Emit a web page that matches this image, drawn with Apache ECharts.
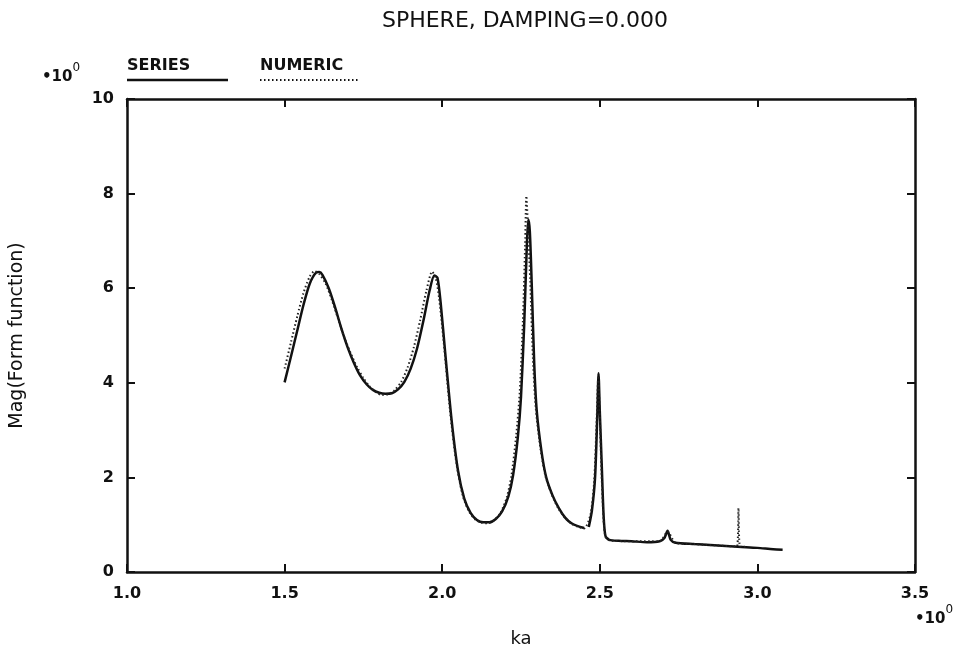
<!DOCTYPE html>
<html>
<head>
<meta charset="utf-8">
<script src="https://cdn.jsdelivr.net/npm/echarts@6/dist/echarts.min.js"></script>
<style>
  html, body { margin: 0; padding: 0; background: #fff; }
  #chart { width: 958px; height: 653px; }
</style>
</head>
<body>
<div id="chart"></div>
<script>
// ka values and magnitudes
var seriesKa = [1.50, 1.52, 1.54, 1.56, 1.58, 1.60, 1.61, 1.62, 1.64, 1.66, 1.68, 1.70, 1.72, 1.74, 1.76, 1.78, 1.80, 1.82, 1.84, 1.86, 1.88, 1.90, 1.92, 1.94, 1.96, 1.975, 1.985, 1.995, 2.01, 2.03, 2.05, 2.07, 2.09, 2.11, 2.13, 2.15, 2.17, 2.19, 2.21, 2.225, 2.24, 2.25, 2.26, 2.268, 2.273, 2.278, 2.284, 2.292, 2.30, 2.315, 2.33, 2.35, 2.37, 2.39, 2.41, 2.43, 2.45, 2.458, 2.465, 2.475, 2.485, 2.492, 2.496, 2.50, 2.506, 2.512, 2.518, 2.53, 2.56, 2.60, 2.65, 2.69, 2.705, 2.715, 2.725, 2.74, 2.80, 2.85, 2.90, 2.95, 3.00, 3.05, 3.08];
var seriesMag = [4.01, 4.55, 5.10, 5.65, 6.10, 6.33, 6.34, 6.28, 6.00, 5.60, 5.15, 4.75, 4.42, 4.15, 3.97, 3.85, 3.79, 3.77, 3.78, 3.86, 4.02, 4.30, 4.72, 5.30, 5.95, 6.27, 6.22, 5.70, 4.60, 3.20, 2.15, 1.55, 1.25, 1.10, 1.05, 1.05, 1.12, 1.28, 1.60, 2.05, 2.85, 3.70, 5.20, 6.80, 7.45, 7.20, 6.10, 4.40, 3.40, 2.55, 2.00, 1.62, 1.35, 1.15, 1.03, 0.97, 0.93, null, 0.95, 1.30, 2.00, 3.30, 4.20, 3.40, 2.30, 1.20, 0.76, 0.68, 0.66, 0.65, 0.63, 0.65, 0.72, 0.87, 0.68, 0.62, 0.59, 0.57, 0.55, 0.53, 0.51, 0.48, 0.47];

var numericKa = [1.50, 1.52, 1.54, 1.56, 1.58, 1.595, 1.61, 1.63, 1.65, 1.67, 1.69, 1.71, 1.73, 1.75, 1.77, 1.79, 1.81, 1.83, 1.85, 1.87, 1.89, 1.91, 1.93, 1.95, 1.968, 1.98, 1.99, 2.005, 2.025, 2.045, 2.065, 2.085, 2.105, 2.125, 2.145, 2.165, 2.185, 2.205, 2.22, 2.235, 2.246, 2.256, 2.263, 2.267, 2.272, 2.279, 2.288, 2.297, 2.312, 2.328, 2.348, 2.368, 2.39, 2.41, 2.43, 2.45, 2.47, 2.482, 2.49, 2.495, 2.50, 2.505, 2.512, 2.518, 2.53, 2.60, 2.69, 2.715, 2.74, 2.80, 2.90, 2.935, 2.94, 2.945, 2.97];
var numericMag = [4.30, 4.85, 5.40, 5.90, 6.25, 6.36, 6.30, 6.10, 5.75, 5.35, 4.95, 4.62, 4.33, 4.10, 3.92, 3.80, 3.74, 3.76, 3.85, 4.02, 4.32, 4.75, 5.32, 5.95, 6.35, 6.20, 5.80, 4.85, 3.40, 2.30, 1.62, 1.28, 1.11, 1.04, 1.03, 1.10, 1.25, 1.58, 2.05, 2.90, 3.80, 5.30, 6.90, 7.95, 7.30, 6.20, 4.50, 3.45, 2.60, 2.02, 1.63, 1.35, 1.14, 1.02, 0.96, 0.92, 1.20, 1.90, 3.20, 4.10, 3.30, 2.20, 1.10, 0.74, 0.67, 0.65, 0.65, 0.85, 0.62, 0.59, 0.55, 0.54, 1.35, 0.54, 0.53];

var xTicks = [1.0, 1.5, 2.0, 2.5, 3.0, 3.5];
var yTicks = [0, 2, 4, 6, 8, 10];

function pairs(xs, ys) {
    return xs.map(function (x, i) { return [x, ys[i]]; });
}

var font = 'DejaVu Sans';
var ink = '#111';

var chart = echarts.init(document.getElementById('chart'));

var axisCommon = {
    axisLine: { show: true, onZero: false, lineStyle: { color: ink, width: 2.5 } },
    axisTick: { show: true, inside: true, length: 8, lineStyle: { color: ink, width: 2 } },
    splitLine: { show: false }
};

var expRich = {
    b: { fontFamily: font, fontSize: 15, fontWeight: 'bold', verticalAlign: 'bottom', padding: [8, 0, 0, 0] },
    s: { fontFamily: font, fontSize: 12, verticalAlign: 'top' }
};

var option = {
    backgroundColor: '#fff',
    animation: false,
    title: {
        text: 'SPHERE, DAMPING=0.000',
        left: 520, top: 5, textAlign: 'center',
        textStyle: { fontFamily: font, fontSize: 22, fontWeight: 'normal', color: ink }
    },
    grid: { left: 127, right: 43, top: 99, bottom: 81 },
    xAxis: [
        Object.assign({
            type: 'value', min: xTicks[0], max: xTicks[xTicks.length - 1], interval: 0.5,
            position: 'bottom',
            name: 'ka', nameLocation: 'middle', nameGap: 58,
            nameTextStyle: { fontFamily: font, fontSize: 18, color: ink },
            axisLabel: {
                margin: 14, color: ink, fontFamily: font, fontSize: 16, fontWeight: 'bold',
                formatter: function (v) { return v.toFixed(1); }
            }
        }, axisCommon),
        Object.assign({
            type: 'value', min: xTicks[0], max: xTicks[xTicks.length - 1], interval: 0.5,
            position: 'top', axisLabel: { show: false }
        }, axisCommon)
    ],
    yAxis: [
        Object.assign({
            type: 'value', min: yTicks[0], max: yTicks[yTicks.length - 1], interval: 2,
            position: 'left',
            name: 'Mag(Form function)', nameLocation: 'middle', nameGap: 100,
            nameTextStyle: { fontFamily: font, fontSize: 19, color: ink },
            axisLabel: {
                margin: 13, color: ink, fontFamily: font, fontSize: 16, fontWeight: 'bold'
            }
        }, axisCommon),
        Object.assign({
            type: 'value', min: yTicks[0], max: yTicks[yTicks.length - 1], interval: 2,
            position: 'right', axisLabel: { show: false }
        }, axisCommon)
    ],
    graphic: [
        // legend: text with underline in the series style
        { type: 'text', left: 127, top: 58,
          style: { text: 'SERIES', fontFamily: font, fontSize: 16, fontWeight: 'bold', fill: ink } },
        { type: 'line', shape: { x1: 127, y1: 80, x2: 228, y2: 80 },
          style: { stroke: ink, lineWidth: 2.5 } },
        { type: 'text', left: 260, top: 58,
          style: { text: 'NUMERIC', fontFamily: font, fontSize: 16, fontWeight: 'bold', fill: ink } },
        { type: 'line', shape: { x1: 260, y1: 80, x2: 360, y2: 80 },
          style: { stroke: ink, lineWidth: 2, lineDash: [1.5, 2.5] } },
        // exponent markers
        { type: 'text', left: 42, top: 62, style: { text: '{b|•10}{s|0}', fill: ink, rich: expRich } },
        { type: 'text', left: 915, top: 604, style: { text: '{b|•10}{s|0}', fill: ink, rich: expRich } }
    ],
    series: [
        {
            name: 'SERIES', type: 'line', xAxisIndex: 0, yAxisIndex: 0,
            data: pairs(seriesKa, seriesMag),
            showSymbol: false, smooth: 0.25, connectNulls: false,
            lineStyle: { color: ink, width: 2.5 }
        },
        {
            name: 'NUMERIC', type: 'line', xAxisIndex: 0, yAxisIndex: 0,
            data: pairs(numericKa, numericMag),
            showSymbol: false, smooth: 0.25,
            lineStyle: { color: '#222', width: 2, type: [1.5, 2.5] }
        }
    ]
};

chart.setOption(option);
</script>
</body>
</html>
